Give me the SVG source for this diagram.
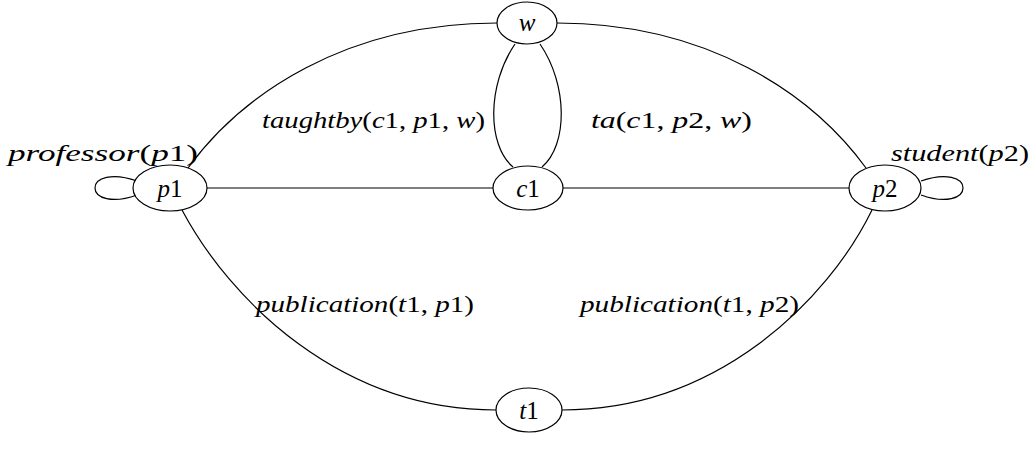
<svg xmlns="http://www.w3.org/2000/svg" width="1035" height="450" viewBox="0 0 1035 450">
<style>
.n{fill:#fff;stroke:#000;stroke-width:1.2}
.e{fill:none;stroke:#000;stroke-width:1.2}
text{font-family:"Liberation Serif","DejaVu Serif",serif;font-size:24px;fill:#000}
.nl{font-size:25px}
.i{font-style:italic}
</style>
<rect width="1035" height="450" fill="#fff"/>
<g id="connectors">
<path class="e" d="M188,168 C242,94 346,23 497,23"/>
<path class="e" d="M557,23 C708,23 812,94 866,168"/>
<path class="e" d="M182,210 C230,300 340,410 496,410"/>
<path class="e" d="M562,410 C718,410 828,300 872,210"/>
<path class="e" d="M207,188 H493"/>
<path class="e" d="M563,188 H849"/>
<path class="e" d="M515,44 C487,85 487,145 513,167"/>
<path class="e" d="M540,44 C568,85 568,145 542,167"/>
<path class="e" d="M137,181 C112,172 95,178 95,188 C95,198 112,204 137,195"/>
<path class="e" d="M921,181 C946,172 963,178 963,188 C963,198 946,204 921,195"/>
</g>
<g id="labels">
<text x="8" y="161" textLength="190" lengthAdjust="spacingAndGlyphs"><tspan class="i">professor</tspan>(<tspan class="i">p</tspan>1)</text>
<text x="891" y="161" textLength="138" lengthAdjust="spacingAndGlyphs"><tspan class="i">student</tspan>(<tspan class="i">p</tspan>2)</text>
<text x="262" y="128" textLength="223" lengthAdjust="spacingAndGlyphs"><tspan class="i">taughtby</tspan>(<tspan class="i">c</tspan>1, <tspan class="i">p</tspan>1, <tspan class="i">w</tspan>)</text>
<text x="591" y="128" textLength="161" lengthAdjust="spacingAndGlyphs"><tspan class="i">ta</tspan>(<tspan class="i">c</tspan>1, <tspan class="i">p</tspan>2, <tspan class="i">w</tspan>)</text>
<text x="256" y="312" textLength="218" lengthAdjust="spacingAndGlyphs"><tspan class="i">publication</tspan>(<tspan class="i">t</tspan>1, <tspan class="i">p</tspan>1)</text>
<text x="580" y="312" textLength="219" lengthAdjust="spacingAndGlyphs"><tspan class="i">publication</tspan>(<tspan class="i">t</tspan>1, <tspan class="i">p</tspan>2)</text>
</g>
<g id="node-w"><ellipse class="n" cx="527" cy="23" rx="30" ry="21"/><text x="527" y="31" text-anchor="middle" class="i nl">w</text></g>
<g id="node-c1"><ellipse class="n" cx="528" cy="188" rx="35" ry="22"/><text x="528" y="197" text-anchor="middle" class="nl"><tspan class="i">c</tspan>1</text></g>
<g id="node-p1"><ellipse class="n" cx="170" cy="188" rx="37" ry="23"/><text x="170" y="197" text-anchor="middle" class="nl"><tspan class="i">p</tspan>1</text></g>
<g id="node-p2"><ellipse class="n" cx="885" cy="188" rx="36" ry="23"/><text x="885" y="197" text-anchor="middle" class="nl"><tspan class="i">p</tspan>2</text></g>
<g id="node-t1"><ellipse class="n" cx="529" cy="410" rx="33" ry="22"/><text x="529" y="419" text-anchor="middle" class="nl"><tspan class="i">t</tspan>1</text></g>
</svg>
